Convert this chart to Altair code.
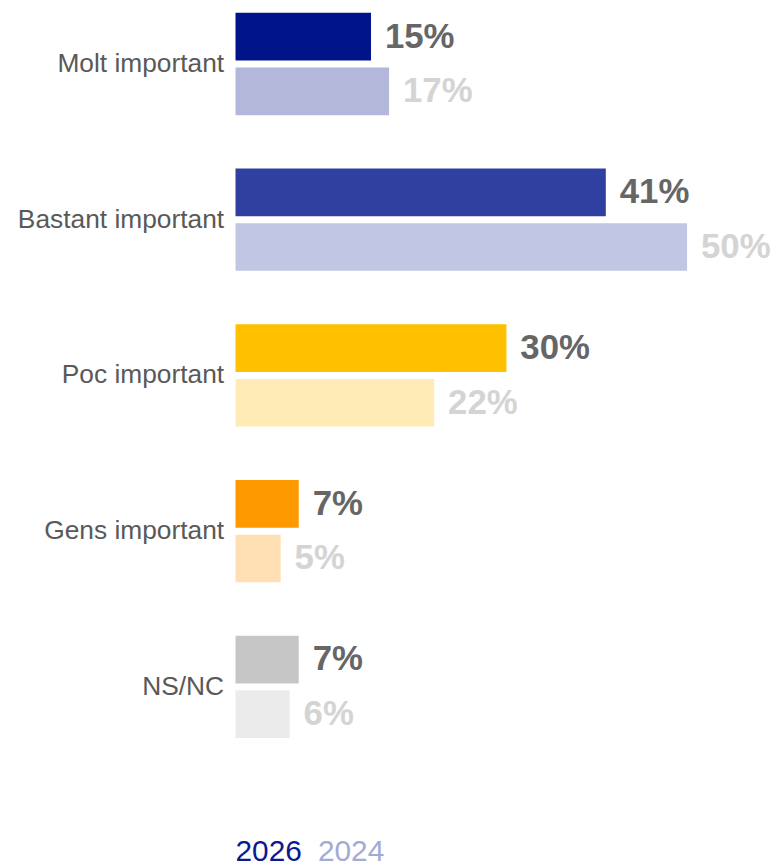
import altair as alt
import pandas as pd

categories = ["Molt important", "Bastant important", "Poc important", "Gens important", "NS/NC"]
years = ["2026", "2024"]
values_2026 = [15, 41, 30, 7, 7]
values_2024 = [17, 50, 22, 5, 6]

colors_2026 = ["#001489", "#3040a0", "#ffc000", "#ff9900", "#c6c6c6"]
colors_2024 = ["#b3b8db", "#c1c6e4", "#ffebb5", "#ffe0b5", "#ebebeb"]

rows = []
for c, v26, v24 in zip(categories, values_2026, values_2024):
    rows.append({"category": c, "year": "2026", "value": v26, "key": c + "|2026"})
    rows.append({"category": c, "year": "2024", "value": v24, "key": c + "|2024"})
df = pd.DataFrame(rows)

key_domain = []
key_range = []
for c, c26, c24 in zip(categories, colors_2026, colors_2024):
    key_domain += [c + "|2026", c + "|2024"]
    key_range += [c26, c24]

FONT = "Liberation Sans"

y_enc = alt.Y("category:N", sort=categories,
              scale=alt.Scale(paddingInner=0.3429, paddingOuter=0.01276, round=False),
              axis=alt.Axis(title=None, ticks=False, domain=False, labelFontSize=26.5,
                            labelColor="#595959", labelPadding=12, labelFont=FONT,
                            labelLimit=400))
yoff_enc = alt.YOffset("year:N", sort=years,
                       scale=alt.Scale(paddingInner=0.1273, paddingOuter=0, round=False))
x_enc = alt.X("value:Q", scale=alt.Scale(domain=[0, 55]), axis=None)

base = alt.Chart(df)

bars = base.mark_bar().encode(
    x=x_enc, y=y_enc, yOffset=yoff_enc,
    color=alt.Color("key:N", scale=alt.Scale(domain=key_domain, range=key_range), legend=None),
)

labels = base.transform_calculate(
    label="datum.value + '%'"
).mark_text(align="left", baseline="middle", dx=14, fontSize=35, fontWeight="bold", font=FONT).encode(
    x=x_enc, y=y_enc, yOffset=yoff_enc,
    text="label:N",
    color=alt.Color("year:N", sort=years,
                    scale=alt.Scale(domain=years, range=["#666666", "#d4d4d4"]),
                    legend=alt.Legend(title=None, orient="none", legendX=0, legendY=832,
                                      direction="horizontal", symbolSize=0, symbolStrokeWidth=0,
                                      symbolOpacity=0, labelOffset=alt.expr("-30"), columnPadding=16,
                                      labelFontSize=30, labelFont=FONT,
                                      labelColor=alt.expr("datum.label == '2026' ? '#0a1a8f' : '#a3aad6'"))),
)

chart = alt.layer(bars, labels).resolve_scale(color="independent").properties(
    width=500, height=734,
    autosize=alt.AutoSizeParams(type="none"),
    padding={"left": 229, "top": 0, "right": 40, "bottom": 132},
).configure_view(stroke=None)

chart.save("out.html", embed_options={"renderer": "svg", "actions": False})
